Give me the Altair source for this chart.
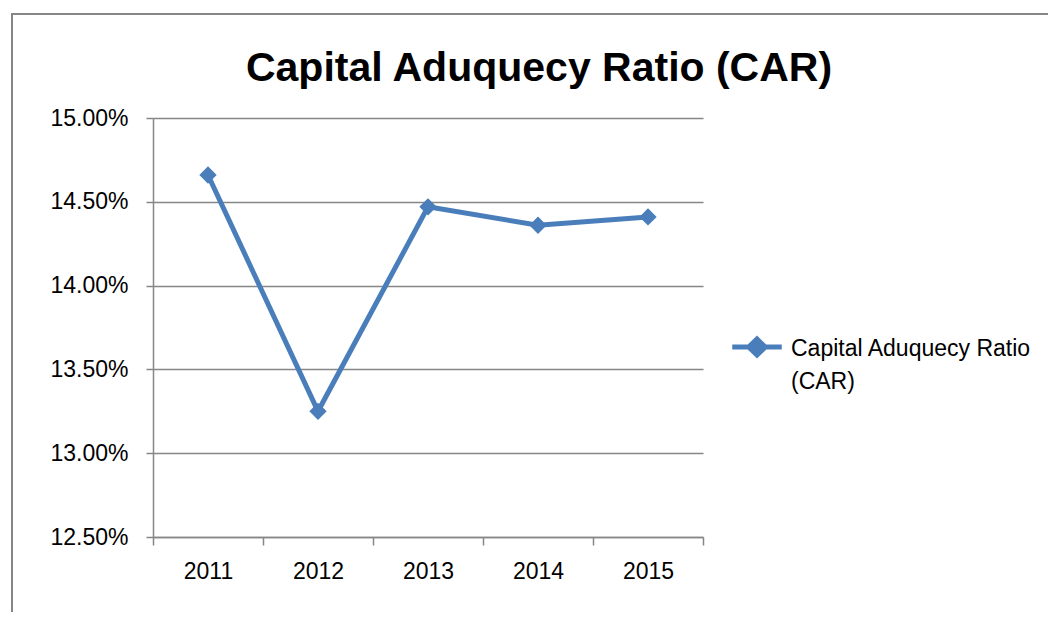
import altair as alt
import pandas as pd

years = ["2011", "2012", "2013", "2014", "2015"]
car = [14.66, 13.25, 14.47, 14.36, 14.41]
series_name = "Capital Aduquecy Ratio (CAR)"
y_ticks = [12.5, 13.0, 13.5, 14.0, 14.5, 15.0]

df = pd.DataFrame({"Year": years, "CAR": car, "Series": [series_name] * len(years)})

BLUE = "#4a7ebb"
GRAY = "#868686"
FONT = "Liberation Sans"

legend_path = "M-0.9,0.33L0.9,0.33M0,0.04L0.3,0.33L0,0.62L-0.3,0.33Z"

x = alt.X(
    "Year:O", title=None,
    scale=alt.Scale(type="band", paddingInner=0, paddingOuter=0),
    axis=alt.Axis(labelAngle=0, tickBand="extent", ticks=True, tickSize=8,
                  labelPadding=15, grid=False, domainColor=GRAY, tickColor=GRAY,
                  domainWidth=1.5, tickWidth=1.5),
)
y = alt.Y(
    "CAR:Q", title=None,
    scale=alt.Scale(domain=[12.5, 15], nice=False, zero=False),
    axis=alt.Axis(values=y_ticks, labelExpr="format(datum.value, '.2f') + '%'",
                  tickSize=7, labelPadding=18, grid=True, gridColor=GRAY,
                  gridWidth=1.5, domainColor=GRAY, tickColor=GRAY,
                  domainWidth=1.5, tickWidth=1.5),
)
color = alt.Color(
    "Series:N",
    scale=alt.Scale(range=[BLUE]),
    legend=alt.Legend(
        title=None, orient="none", legendX=574, legendY=190, padding=0,
        symbolType=legend_path, symbolSize=3025, symbolStrokeWidth=5,
        symbolFillColor=BLUE, symbolStrokeColor=BLUE,
        labelExpr="[substring(datum.label, 0, 22), substring(datum.label, 23)]",
        labelBaseline="top", labelOffset=4, labelLimit=400,
    ),
)

base = alt.Chart(df)
points = base.mark_point(shape="diamond", size=300, filled=True, opacity=1).encode(
    x=x, y=y, color=color
)
line = base.mark_line(strokeWidth=5).encode(x=x, y=y, color=color)

frame = alt.Chart(alt.Data(values=[{}])).mark_rect(
    fill="transparent", stroke=GRAY, strokeWidth=2
).encode(
    x=alt.value(-141), x2=alt.value(3000), y=alt.value(-104), y2=alt.value(3000)
)

chart = alt.layer(frame, points, line).properties(
    width=550,
    height=419,
    padding={"left": 145, "top": 110, "right": 345, "bottom": 75},
    autosize=alt.AutoSizeParams(type="none"),
    title=alt.Title(
        series_name, fontSize=41, font=FONT, fontWeight="bold", color="black",
        anchor="middle", dx=111, baseline="alphabetic", offset=-109,
    ),
).configure(
    style={"guide-label": {"lineHeight": 33}}
).configure_view(stroke=None).configure_axis(
    labelFont=FONT, labelFontSize=23, labelColor="black"
).configure_legend(
    labelFont=FONT, labelFontSize=23, labelColor="black"
)

chart.save("out.html", embed_options={"renderer": "svg", "actions": False})
